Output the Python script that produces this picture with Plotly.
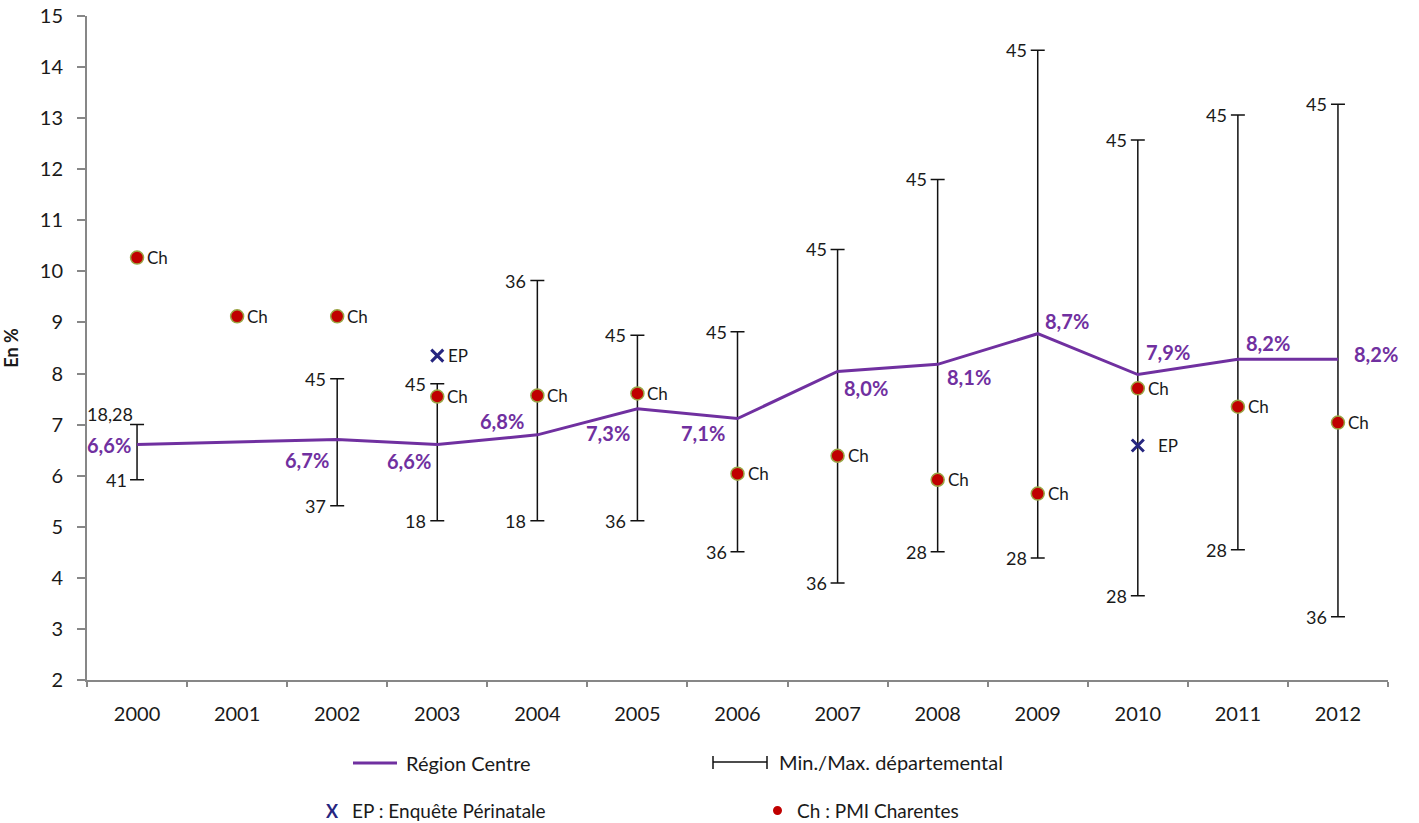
import plotly.graph_objects as go

# ---------------- data ----------------
years = [str(y) for y in range(2000, 2013)]

region_centre = [6.61, 6.66, 6.71, 6.61, 6.80, 7.31, 7.12, 8.04, 8.18, 8.78, 7.98, 8.28, 8.28]
region_labels = ["6,6%", None, "6,7%", "6,6%", "6,8%", "7,3%", "7,1%", "8,0%", "8,1%", "8,7%", "7,9%", "8,2%", "8,2%"]

dep_max = [7.00, None, 7.90, 7.80, 9.82, 8.75, 8.82, 10.43, 11.80, 14.33, 12.57, 13.06, 13.27]
dep_min = [5.92, None, 5.41, 5.12, 5.12, 5.12, 4.51, 3.90, 4.51, 4.39, 3.65, 4.55, 3.24]
dep_max_labels = ["18,28", None, "45", "45", "36", "45", "45", "45", "45", "45", "45", "45", "45"]
dep_min_labels = ["41", None, "37", "18", "18", "36", "36", "36", "28", "28", "28", "28", "36"]

ch_values = [10.27, 9.12, 9.12, 7.55, 7.57, 7.61, 6.04, 6.39, 5.92, 5.65, 7.71, 7.35, 7.04]

ep_years = ["2003", "2010"]
ep_values = [8.35, 6.59]

# ---------------- styles ----------------
FONT = "Lato"
PURPLE = "#7030A0"
NAVY = "#26267F"
DARKRED = "#C00000"
TXT = "#1a1a1a"
AXIS = "#878787"

# label offsets (anchor, xshift, yshift) for the Région Centre labels
line_label_pos = [("right", -4, 0), None, ("right", -6, -21), ("right", -4, -16),
                  ("right", -11, 14), ("right", -5, -24), ("right", -11, -15),
                  ("left", 4, -16), ("left", 7, -13), ("left", 5, 13),
                  ("left", 6, 23), ("left", 6, 16), ("left", 14, 5)]
max_label_pos = [(-2, 11)] + [(-9, 0)] * 12
min_label_pos = [(-8, 0)] + [(-9, 0)] * 12
ep_label_shift = [9, 18]

fig = go.Figure()

# Min / Max départemental (error bars)
err_up = [(mx - mn) if mx is not None else None for mx, mn in zip(dep_max, dep_min)]
fig.add_trace(go.Scatter(
    x=years, y=dep_min, mode="markers",
    marker=dict(size=1, opacity=0),
    error_y=dict(type="data", symmetric=False,
                 array=[e if e is not None else 0 for e in err_up],
                 arrayminus=[0] * len(years),
                 color="#111111", thickness=1.5, width=7),
    showlegend=False, hoverinfo="skip"))

# Région Centre line
fig.add_trace(go.Scatter(
    x=years, y=region_centre, mode="lines",
    line=dict(color=PURPLE, width=3),
    showlegend=False))

# Ch: PMI Charentes
fig.add_trace(go.Scatter(
    x=years, y=ch_values, mode="markers",
    marker=dict(size=13, color=DARKRED, line=dict(color="#9AA545", width=1.5)),
    showlegend=False))

# EP: Enquête Périnatale
fig.add_trace(go.Scatter(
    x=ep_years, y=ep_values, mode="markers",
    marker=dict(symbol="x-thin", size=12, line=dict(color=NAVY, width=3)),
    showlegend=False))

annotations = []
idx = {yr: i for i, yr in enumerate(years)}  # category index for annotations

# Région Centre labels
for i, (v, lab, pos) in enumerate(zip(region_centre, region_labels, line_label_pos)):
    if lab is None:
        continue
    anchor, dx, dy = pos
    annotations.append(dict(x=i, y=v, xref="x", yref="y", text=lab, showarrow=False,
                            xanchor=anchor, yanchor="middle", xshift=dx, yshift=dy,
                            font=dict(family=FONT, size=20, color=PURPLE, weight="bold")))

# Min / Max labels
for i, (mx, mn, lmx, lmn, pmx, pmn) in enumerate(zip(dep_max, dep_min, dep_max_labels,
                                                     dep_min_labels, max_label_pos, min_label_pos)):
    if mx is None:
        continue
    annotations.append(dict(x=i, y=mx, xref="x", yref="y", text=lmx, showarrow=False,
                            xanchor="right", yanchor="middle", xshift=pmx[0], yshift=pmx[1],
                            font=dict(family=FONT, size=18, color=TXT)))
    annotations.append(dict(x=i, y=mn, xref="x", yref="y", text=lmn, showarrow=False,
                            xanchor="right", yanchor="middle", xshift=pmn[0], yshift=pmn[1],
                            font=dict(family=FONT, size=18, color=TXT)))

# Ch labels
for i, v in enumerate(ch_values):
    annotations.append(dict(x=i, y=v, xref="x", yref="y", text="Ch", showarrow=False,
                            xanchor="left", yanchor="middle", xshift=8,
                            font=dict(family=FONT, size=17, color=TXT)))

# EP labels
for yr, v, sh in zip(ep_years, ep_values, ep_label_shift):
    annotations.append(dict(x=idx[yr], y=v, xref="x", yref="y", text="EP", showarrow=False,
                            xanchor="left", yanchor="middle", xshift=sh,
                            font=dict(family=FONT, size=17, color=TXT)))

# ---------------- custom legend ----------------
L, R, T, B = 87, 1388, 16, 680
def px(xp):
    return (xp - L) / (R - L)
def py(yp):
    return (B - yp) / (B - T)

shapes = []
# Région Centre
shapes.append(dict(type="line", xref="paper", yref="paper",
                   x0=px(353), x1=px(397), y0=py(763), y1=py(763),
                   line=dict(color=PURPLE, width=3)))
annotations.append(dict(xref="paper", yref="paper", x=px(404), y=py(763),
                        text="Région Centre", showarrow=False, xanchor="left", yanchor="middle",
                        font=dict(family=FONT, size=20, color=TXT)))
# Min./Max.
for seg in [((713, 762), (767, 762)), ((713, 756), (713, 769)), ((767, 756), (767, 769))]:
    (x0, y0), (x1, y1) = seg
    shapes.append(dict(type="line", xref="paper", yref="paper",
                       x0=px(x0), x1=px(x1), y0=py(y0), y1=py(y1),
                       line=dict(color="#111111", width=1.5)))
annotations.append(dict(xref="paper", yref="paper", x=px(777), y=py(762),
                        text="Min./Max. départemental", showarrow=False, xanchor="left",
                        yanchor="middle", font=dict(family=FONT, size=20, color=TXT)))
# EP
annotations.append(dict(xref="paper", yref="paper", x=px(332), y=py(811),
                        text="X", showarrow=False, xanchor="center", yanchor="middle",
                        font=dict(family=FONT, size=18, color=NAVY, weight="bold")))
annotations.append(dict(xref="paper", yref="paper", x=px(350), y=py(810),
                        text="EP : Enquête Périnatale", showarrow=False, xanchor="left",
                        yanchor="middle", font=dict(family=FONT, size=19, color=TXT)))
# Ch
shapes.append(dict(type="circle", xref="paper", yref="paper",
                   x0=px(773), x1=px(782), y0=py(806), y1=py(815),
                   fillcolor=DARKRED, line=dict(color=DARKRED, width=0)))
annotations.append(dict(xref="paper", yref="paper", x=px(795), y=py(810),
                        text="Ch : PMI Charentes", showarrow=False, xanchor="left",
                        yanchor="middle", font=dict(family=FONT, size=19, color=TXT)))

fig.update_layout(
    width=1419, height=823,
    margin=dict(l=L, r=1419 - R, t=T, b=823 - B, autoexpand=False),
    paper_bgcolor="white", plot_bgcolor="white",
    showlegend=False,
    annotations=annotations, shapes=shapes,
    xaxis=dict(type="category", categoryorder="array", categoryarray=years,
               range=[-0.5, 12.5], showline=True, linecolor=AXIS, linewidth=2,
               ticks="outside", ticklen=5, tickcolor=AXIS, tickwidth=1.5,
               tickson="boundaries", showgrid=False, zeroline=False,
               ticklabelstandoff=15, automargin=False,
               tickfont=dict(family=FONT, size=20, color=TXT)),
    yaxis=dict(range=[2, 15], dtick=1, tick0=2, showline=True, linecolor=AXIS,
               linewidth=2, ticks="outside", ticklen=8, tickcolor=AXIS, tickwidth=1.5,
               showgrid=False, zeroline=False, ticklabelstandoff=10, automargin=False,
               tickfont=dict(family=FONT, size=20, color=TXT),
               title=dict(text="<b>En %</b>", standoff=18,
                          font=dict(family=FONT, size=18, color=TXT))),
)

fig.write_html("out.html", config={"displayModeBar": False},
               post_script="document.body.style.margin='0';")
